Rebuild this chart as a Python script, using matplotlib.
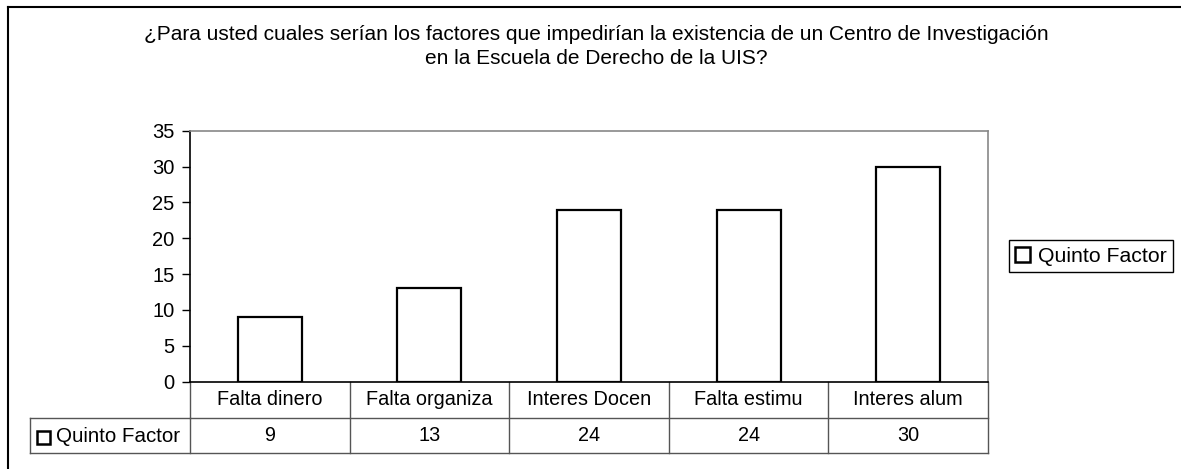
import matplotlib
matplotlib.use("Agg")
import matplotlib.pyplot as plt
from matplotlib.patches import Rectangle, Patch
from matplotlib.lines import Line2D
import matplotlib.transforms as mtransforms

plt.rcParams['font.family'] = ['Liberation Sans', 'DejaVu Sans']
plt.rcParams['font.size'] = 14

# data
categorias = ["Falta dinero", "Falta organiza", "Interes Docen", "Falta estimu", "Interes alum"]
valores = [9, 13, 24, 24, 30]
serie = "Quinto Factor"
titulo = ("¿Para usted cuales serían los factores que impedirían la existencia de un Centro de Investigación\n"
          "en la Escuela de Derecho de la UIS?")

fig = plt.figure(figsize=(11.81, 4.69), dpi=100)
ax = fig.add_axes([190 / 1181, 1 - 381.7 / 469, 798 / 1181, 251 / 469])

x = range(len(categorias))
ax.bar(x, valores, width=0.4, color='white', edgecolor='black', linewidth=1.6, zorder=3)

ax.set_xlim(-0.5, len(categorias) - 0.5)
ax.set_ylim(0, 35)
ax.set_yticks(range(0, 36, 5))
ax.set_xticks([])
ax.tick_params(axis='y', length=6, width=1, pad=5, labelsize=14.5)
for s in ['top', 'right']:
    ax.spines[s].set_color('#888888')
    ax.spines[s].set_linewidth(1.2)
for s in ['left', 'bottom']:
    ax.spines[s].set_color('black')
    ax.spines[s].set_linewidth(1.2)

# data table below the axes
tr = mtransforms.blended_transform_factory(ax.transData, ax.transAxes)
r1 = -0.1458
r2 = -0.2829
gris = '#555555'
n = len(categorias)
lines = []
for i in range(n + 1):
    xb = i - 0.5
    lines.append(([xb, xb], [0, r2]))
lines.append(([-0.5, n - 0.5], [r1, r1]))
lines.append(([-1.5, n - 0.5], [r2, r2]))
lines.append(([-1.5, -0.5], [r1, r1]))
lines.append(([-1.5, -1.5], [r1, r2]))
for xs, ys in lines:
    ax.add_line(Line2D(xs, ys, transform=tr, color=gris, lw=1.0, clip_on=False))

for i, (c, v) in enumerate(zip(categorias, valores)):
    ax.text(i, (0 + r1) / 2, c, transform=tr, ha='center', va='center', fontsize=14.3)
    ax.text(i, (r1 + r2) / 2, str(v), transform=tr, ha='center', va='center', fontsize=14.3)

# legend key in the table header
ax.add_patch(Rectangle((36.5 / 1181, 1 - 444 / 469), 13 / 1181, 13 / 469, transform=fig.transFigure,
                       facecolor='white', edgecolor='black', lw=1.8, clip_on=False))
fig.text(56 / 1181, 1 - 436 / 469, serie, ha='left', va='center', fontsize=14.8)

# legend
fig.legend(handles=[Patch(facecolor='white', edgecolor='black', linewidth=1.8, label=serie)],
           loc='center', bbox_to_anchor=(1091 / 1181, 1 - 256 / 469), frameon=True, fancybox=False,
           edgecolor='black', handlelength=0.7, handleheight=0.7, handletextpad=0.35,
           borderpad=0.3, borderaxespad=0, fontsize=15.3, framealpha=1)

fig.text(596 / 1181, 1 - 46.5 / 469, titulo, ha='center', va='center', fontsize=15, linespacing=1.3)

# outer chart border
fig.add_artist(Line2D([8 / 1181, 1], [1 - 7 / 469, 1 - 7 / 469], transform=fig.transFigure, color='black', lw=1.5))
fig.add_artist(Line2D([8 / 1181, 8 / 1181], [0, 1 - 7 / 469], transform=fig.transFigure, color='black', lw=1.5))

fig.savefig("out.png", dpi=100, facecolor='white')
